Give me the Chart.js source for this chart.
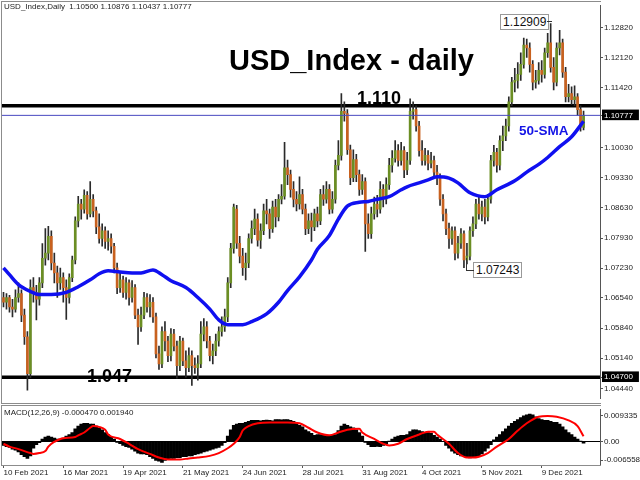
<!DOCTYPE html>
<html>
<head>
<meta charset="utf-8">
<title>USD_Index - daily</title>
<script src="https://cdn.jsdelivr.net/npm/chart.js@4.4.1/dist/chart.umd.min.js"></script>
<style>
  html, body { margin: 0; padding: 0; background: #fff; }
  body { position: relative; width: 640px; height: 480px; overflow: hidden; font-family: "Liberation Sans", Arial, sans-serif; }
  canvas { position: absolute; left: 0; }
  #priceChart { top: 0; }
  #macdChart { top: 404px; }
  .frame { position: absolute; border: 1px solid #8c8c8c; border-right: none; }
  .txt { position: absolute; white-space: nowrap; line-height: 1; }
  .small { font-size: 8px; color: #222; }
  .big { font-weight: bold; color: #000; }
  .callout { position: absolute; background: #fff; border: 1px solid #999; font-size: 12px; line-height: 14px; padding: 0 2px; color: #111; }
  .wire { position: absolute; border-color: #333; border-style: solid; border-width: 0; }
</style>
</head>
<body>
<canvas id="priceChart" width="640" height="404"></canvas>
<canvas id="macdChart" width="640" height="76"></canvas>

<div class="frame" style="left:1px;top:1px;width:599px;height:401px"></div>
<div class="frame" style="left:1px;top:405px;width:599px;height:59px"></div>

<div class="txt small" style="left:4px;top:3px">USD_Index,Daily&nbsp; 1.10500 1.10876 1.10437 1.10777</div>
<div class="txt big" style="left:229px;top:46px;font-size:29px">USD_Index - daily</div>
<div class="txt big" style="left:357px;top:89px;font-size:18px">1.110</div>
<div class="txt big" style="left:87px;top:367px;font-size:18px">1.047</div>
<div class="txt big" style="left:519px;top:124px;font-size:13.5px;color:#1414e6">50-SMA</div>

<div class="callout" style="left:500px;top:14px">1.12909</div>
<div class="wire" style="left:547px;top:21px;width:5px;border-top-width:1px"></div>
<div class="callout" style="left:473px;top:262px">1.07243</div>
<div class="wire" style="left:466px;top:258px;width:7px;height:12px;border-left-width:1px;border-bottom-width:1px"></div>

<div class="txt small" style="left:4px;top:409px">MACD(12,26,9) -0.000470 0.001940</div>

<script>
// x axis: one slot per daily bar
const dateLabels = ['10 Feb 2021', '16 Mar 2021', '19 Apr 2021', '21 May 2021', '24 Jun 2021',
                    '28 Jul 2021', '31 Aug 2021', '4 Oct 2021', '5 Nov 2021', '9 Dec 2021'];
const dateIdx = [0, 20, 40, 60, 80, 100, 120, 140, 160, 180];

// price axis
const priceTicks = [1.12820, 1.12120, 1.11420, 1.10777, 1.10030, 1.09330, 1.08630, 1.07930,
                    1.07230, 1.06540, 1.05840, 1.05140, 1.04700, 1.04440];
const markedPrices = [1.10777, 1.04700];
const levels = [1.110, 1.047];
const lastPrice = 1.10777;

// macd axis
const macdTicks = [0.009335, 0, -0.006558];
const macdTickLabels = ['0.009335', '0.00', '-0.006558'];

// daily candles
const opens = [
  1.0655, 1.0644, 1.0655, 1.0633, 1.0628, 1.0655, 1.0664, 1.0614, 1.0564, 1.0478,
  1.0678, 1.0667, 1.0651, 1.0689, 1.0746, 1.0758, 1.0797, 1.0735, 1.0712, 1.0689,
  1.0701, 1.0678, 1.0655, 1.0701, 1.0742, 1.0833, 1.0872, 1.0860, 1.0892, 1.0849,
  1.0883, 1.0856, 1.0819, 1.0792, 1.0810, 1.0785, 1.0792, 1.0774, 1.0724, 1.0678,
  1.0696, 1.0667, 1.0689, 1.0655, 1.0678, 1.0614, 1.0587, 1.0614, 1.0655, 1.0633,
  1.0644, 1.0610, 1.0524, 1.0501, 1.0576, 1.0554, 1.0520, 1.0570, 1.0542, 1.0497,
  1.0554, 1.0508, 1.0492, 1.0520, 1.0497, 1.0492, 1.0501, 1.0570, 1.0587, 1.0554,
  1.0520, 1.0531, 1.0554, 1.0576, 1.0587, 1.0610, 1.0689, 1.0769, 1.0860, 1.0781,
  1.0751, 1.0724, 1.0735, 1.0792, 1.0815, 1.0837, 1.0788, 1.0810, 1.0856, 1.0849,
  1.0815, 1.0865, 1.0842, 1.0883, 1.0890, 1.0956, 1.0940, 1.0906, 1.0883, 1.0872,
  1.0894, 1.0860, 1.0815, 1.0833, 1.0819, 1.0849, 1.0833, 1.0894, 1.0883, 1.0906,
  1.0860, 1.0883, 1.0962, 1.0985, 1.1087, 1.1082, 1.0998, 1.0933, 1.0975, 1.0940,
  1.0906, 1.0924, 1.0826, 1.0803, 1.0849, 1.0872, 1.0860, 1.0906, 1.0883, 1.0917,
  1.0962, 1.0978, 1.0996, 1.0973, 1.0996, 1.0951, 1.0973, 1.1087, 1.1091, 1.1053,
  1.0996, 1.0973, 1.0985, 1.0967, 1.0973, 1.0946, 1.0933, 1.0883, 1.0849, 1.0815,
  1.0792, 1.0810, 1.0758, 1.0781, 1.0803, 1.0742, 1.0751, 1.0810, 1.0826, 1.0872,
  1.0849, 1.0865, 1.0842, 1.0883, 1.0973, 1.0992, 1.0962, 1.1019, 1.1030, 1.1053,
  1.1109, 1.1155, 1.1159, 1.1173, 1.1196, 1.1241, 1.1234, 1.1196, 1.1155, 1.1159,
  1.1182, 1.1173, 1.1223, 1.1246, 1.1189, 1.1155, 1.1234, 1.1246, 1.1178, 1.1121,
  1.1128, 1.1114, 1.1121, 1.1091, 1.10500
];
const highs = [
  1.0667, 1.0664, 1.0660, 1.0651, 1.0673, 1.0689, 1.0673, 1.0628, 1.0576, 1.0696,
  1.0701, 1.0683, 1.0701, 1.0780, 1.0815, 1.0820, 1.0810, 1.0758, 1.0728, 1.0723,
  1.0712, 1.0696, 1.0710, 1.0751, 1.0842, 1.0890, 1.0883, 1.0905, 1.0901, 1.0924,
  1.0894, 1.0865, 1.0849, 1.0826, 1.0819, 1.0810, 1.0803, 1.0781, 1.0735, 1.0712,
  1.0705, 1.0701, 1.0696, 1.0694, 1.0685, 1.0628, 1.0633, 1.0667, 1.0664, 1.0662,
  1.0655, 1.0619, 1.0542, 1.0587, 1.0599, 1.0565, 1.0583, 1.0581, 1.0554, 1.0565,
  1.0561, 1.0531, 1.0538, 1.0531, 1.0515, 1.0520, 1.0599, 1.0606, 1.0599, 1.0565,
  1.0547, 1.0570, 1.0587, 1.0610, 1.0628, 1.0701, 1.0781, 1.0872, 1.0869, 1.0797,
  1.0769, 1.0758, 1.0803, 1.0833, 1.0860, 1.0849, 1.0826, 1.0872, 1.0883, 1.0860,
  1.0879, 1.0883, 1.0894, 1.0917, 1.1015, 1.0974, 1.0951, 1.0924, 1.0901, 1.0935,
  1.0906, 1.0872, 1.0849, 1.0851, 1.0860, 1.0865, 1.0906, 1.0915, 1.0924, 1.0917,
  1.0901, 1.0974, 1.1019, 1.1128, 1.1109, 1.1091, 1.1009, 1.0998, 1.0987, 1.0951,
  1.0940, 1.0933, 1.0849, 1.0865, 1.0888, 1.0892, 1.0924, 1.0917, 1.0933, 1.0978,
  1.0996, 1.1019, 1.1010, 1.1015, 1.1005, 1.0992, 1.1116, 1.1109, 1.1100, 1.1064,
  1.1019, 1.1001, 1.0996, 1.0992, 1.0983, 1.0962, 1.0942, 1.0894, 1.0860, 1.0828,
  1.0819, 1.0819, 1.0797, 1.0815, 1.0810, 1.0781, 1.0819, 1.0842, 1.0883, 1.0888,
  1.0879, 1.0883, 1.0894, 1.0985, 1.1008, 1.1001, 1.1030, 1.1053, 1.1069, 1.1121,
  1.1166, 1.1187, 1.1200, 1.1223, 1.1257, 1.1255, 1.1246, 1.1205, 1.1182, 1.1200,
  1.1205, 1.1234, 1.1268, 1.12909, 1.1212, 1.1246, 1.1275, 1.1255, 1.1189, 1.1150,
  1.1144, 1.1146, 1.1128, 1.1100, 1.10876
];
const lows = [
  1.0633, 1.0628, 1.0621, 1.0610, 1.0621, 1.0644, 1.0599, 1.0546, 1.0440, 1.0469,
  1.0644, 1.0603, 1.0637, 1.0678, 1.0730, 1.0742, 1.0719, 1.0689, 1.0655, 1.0674,
  1.0644, 1.0604, 1.0642, 1.0692, 1.0733, 1.0819, 1.0837, 1.0851, 1.0837, 1.0842,
  1.0842, 1.0803, 1.0781, 1.0774, 1.0769, 1.0765, 1.0758, 1.0712, 1.0664, 1.0667,
  1.0655, 1.0651, 1.0637, 1.0644, 1.0606, 1.0546, 1.0576, 1.0606, 1.0621, 1.0610,
  1.0597, 1.0515, 1.0488, 1.0492, 1.0531, 1.0506, 1.0508, 1.0531, 1.0468, 1.0485,
  1.0497, 1.0470, 1.0483, 1.0451, 1.0479, 1.0463, 1.0492, 1.0554, 1.0538, 1.0508,
  1.0501, 1.0520, 1.0542, 1.0565, 1.0576, 1.0599, 1.0678, 1.0758, 1.0769, 1.0735,
  1.0706, 1.0696, 1.0724, 1.0781, 1.0801, 1.0774, 1.0769, 1.0801, 1.0826, 1.0792,
  1.0806, 1.0819, 1.0833, 1.0872, 1.0883, 1.0917, 1.0888, 1.0865, 1.0856, 1.0860,
  1.0849, 1.0801, 1.0803, 1.0785, 1.0810, 1.0819, 1.0824, 1.0869, 1.0874, 1.0849,
  1.0851, 1.0874, 1.0951, 1.0974, 1.1064, 1.0987, 1.0917, 1.0924, 1.0924, 1.0892,
  1.0894, 1.0762, 1.0792, 1.0792, 1.0837, 1.0842, 1.0851, 1.0865, 1.0872, 1.0906,
  1.0946, 1.0969, 1.0960, 1.0962, 1.0933, 1.0940, 1.0964, 1.1069, 1.1041, 1.0983,
  1.0962, 1.0962, 1.0951, 1.0956, 1.0933, 1.0917, 1.0869, 1.0833, 1.0801, 1.0769,
  1.0778, 1.0742, 1.0746, 1.0769, 1.07243, 1.0733, 1.0742, 1.0797, 1.0815, 1.0837,
  1.0833, 1.0826, 1.0833, 1.0874, 1.0960, 1.0946, 1.0951, 1.0996, 1.1019, 1.1041,
  1.1100, 1.1132, 1.1141, 1.1159, 1.1187, 1.1212, 1.1178, 1.1137, 1.1141, 1.1150,
  1.1155, 1.1164, 1.1212, 1.1178, 1.1137, 1.1146, 1.1218, 1.1166, 1.1109, 1.1109,
  1.1103, 1.1100, 1.1078, 1.1041, 1.10437
];
const closes = [
  1.0644, 1.0655, 1.0633, 1.0628, 1.0655, 1.0664, 1.0614, 1.0564, 1.0478, 1.0678,
  1.0667, 1.0651, 1.0689, 1.0746, 1.0758, 1.0797, 1.0735, 1.0712, 1.0689, 1.0701,
  1.0678, 1.0655, 1.0701, 1.0742, 1.0833, 1.0872, 1.0860, 1.0892, 1.0849, 1.0883,
  1.0856, 1.0819, 1.0792, 1.0810, 1.0785, 1.0792, 1.0774, 1.0724, 1.0678, 1.0696,
  1.0667, 1.0689, 1.0655, 1.0678, 1.0614, 1.0587, 1.0614, 1.0655, 1.0633, 1.0644,
  1.0610, 1.0524, 1.0501, 1.0576, 1.0554, 1.0520, 1.0570, 1.0542, 1.0497, 1.0554,
  1.0508, 1.0492, 1.0520, 1.0497, 1.0492, 1.0501, 1.0570, 1.0587, 1.0554, 1.0520,
  1.0531, 1.0554, 1.0576, 1.0587, 1.0610, 1.0689, 1.0769, 1.0865, 1.0781, 1.0751,
  1.0724, 1.0735, 1.0792, 1.0815, 1.0837, 1.0788, 1.0810, 1.0856, 1.0849, 1.0815,
  1.0865, 1.0842, 1.0883, 1.0890, 1.0956, 1.0940, 1.0906, 1.0883, 1.0872, 1.0894,
  1.0860, 1.0815, 1.0833, 1.0819, 1.0849, 1.0833, 1.0894, 1.0883, 1.0906, 1.0860,
  1.0883, 1.0962, 1.0985, 1.1087, 1.1082, 1.0998, 1.0933, 1.0975, 1.0940, 1.0906,
  1.0924, 1.0826, 1.0803, 1.0849, 1.0872, 1.0860, 1.0906, 1.0883, 1.0917, 1.0962,
  1.0978, 1.0996, 1.0973, 1.0996, 1.0951, 1.0973, 1.1087, 1.1091, 1.1053, 1.0996,
  1.0973, 1.0985, 1.0967, 1.0973, 1.0946, 1.0933, 1.0883, 1.0849, 1.0815, 1.0792,
  1.0810, 1.0758, 1.0781, 1.0803, 1.0742, 1.0751, 1.0810, 1.0826, 1.0872, 1.0849,
  1.0865, 1.0842, 1.0883, 1.0973, 1.0992, 1.0962, 1.1019, 1.1030, 1.1053, 1.1109,
  1.1155, 1.1159, 1.1173, 1.1196, 1.1241, 1.1234, 1.1196, 1.1155, 1.1159, 1.1182,
  1.1173, 1.1223, 1.1246, 1.1189, 1.1155, 1.1234, 1.1246, 1.1178, 1.1121, 1.1128,
  1.1114, 1.1121, 1.1091, 1.1050, 1.10777
];

// 50-SMA: [bar index, value]
const sma50 = [
  [0, 1.0724], [2, 1.0708], [5, 1.0685], [9, 1.0669], [12, 1.0662], [16, 1.0662],
  [21, 1.0667], [25, 1.0680], [29, 1.0696], [32, 1.0710], [35, 1.0717], [39, 1.0714],
  [43, 1.0712], [46, 1.0712], [50, 1.0719], [53, 1.0708], [56, 1.0694], [61, 1.0678],
  [65, 1.0655], [69, 1.0628], [72, 1.0603], [75, 1.0592], [80, 1.0592], [83, 1.0599],
  [88, 1.0617], [92, 1.0644], [95, 1.0671], [99, 1.0703], [103, 1.0742], [105, 1.0767],
  [109, 1.0799], [112, 1.0837], [115, 1.0867], [119, 1.0876], [122, 1.0878], [125, 1.0883],
  [129, 1.0889], [133, 1.0905], [135, 1.0912], [139, 1.0921], [142, 1.0928], [145, 1.0935],
  [149, 1.0932], [152, 1.0921], [156, 1.0898], [161, 1.0889], [165, 1.0905], [171, 1.0926],
  [175, 1.0946], [179, 1.0964], [182, 1.0980], [186, 1.1005], [190, 1.1028], [194, 1.1064]
];

// MACD main (histogram), one per bar
const macdMain = [
  -0.0013, -0.0017, -0.0020, -0.0026, -0.0030, -0.0036, -0.0046, -0.0053, -0.0059, -0.0050,
  -0.0023, -0.0010, -0.0003, 0.0010, 0.0017, 0.0020, 0.0017, 0.0013, 0.0010, 0.0010,
  0.0013, 0.0020, 0.0026, 0.0033, 0.0046, 0.0056, 0.0063, 0.0066, 0.0066, 0.0063,
  0.0063, 0.0056, 0.0050, 0.0043, 0.0033, 0.0026, 0.0017, 0.0010, -0.0001, -0.0007,
  -0.0013, -0.0017, -0.0020, -0.0026, -0.0033, -0.0040, -0.0043, -0.0043, -0.0046, -0.0053,
  -0.0059, -0.0066, -0.0069, -0.0073, -0.0066, -0.0063, -0.0059, -0.0059, -0.0056, -0.0056,
  -0.0053, -0.0053, -0.0050, -0.0050, -0.0046, -0.0043, -0.0040, -0.0036, -0.0033, -0.0030,
  -0.0026, -0.0023, -0.0020, -0.0013, -0.0003, 0.0020, 0.0043, 0.0059, 0.0063, 0.0066,
  0.0066, 0.0069, 0.0073, 0.0076, 0.0076, 0.0076, 0.0075, 0.0076, 0.0077, 0.0076,
  0.0075, 0.0079, 0.0079, 0.0078, 0.0079, 0.0079, 0.0076, 0.0073, 0.0066, 0.0059,
  0.0053, 0.0043, 0.0036, 0.0030, 0.0023, 0.0026, 0.0026, 0.0023, 0.0023, 0.0023,
  0.0023, 0.0026, 0.0040, 0.0056, 0.0063, 0.0059, 0.0053, 0.0050, 0.0043, 0.0033,
  0.0020, -0.0001, -0.0010, -0.0017, -0.0017, -0.0016, -0.0017, -0.0013, -0.0007, 0.0003,
  0.0010, 0.0017, 0.0020, 0.0023, 0.0023, 0.0026, 0.0036, 0.0043, 0.0043, 0.0040,
  0.0036, 0.0033, 0.0033, 0.0030, 0.0023, 0.0017, 0.0010, 0.0001, -0.0013, -0.0023,
  -0.0033, -0.0040, -0.0046, -0.0050, -0.0053, -0.0056, -0.0057, -0.0056, -0.0053, -0.0050,
  -0.0043, -0.0033, -0.0023, -0.0010, 0.0007, 0.0017, 0.0026, 0.0036, 0.0046, 0.0056,
  0.0066, 0.0073, 0.0079, 0.0086, 0.0092, 0.0096, 0.0099, 0.0096, 0.0089, 0.0083,
  0.0079, 0.0076, 0.0076, 0.0073, 0.0069, 0.0069, 0.0063, 0.0053, 0.0043, 0.0033,
  0.0026, 0.0017, 0.0010, 0.0003, -0.00047
];

// MACD signal line: [bar index, value]
const macdSignal = [
  [0, -0.0007], [2, -0.0017], [5, -0.0026], [9, -0.0040], [10, -0.0043], [12, -0.0040],
  [14, -0.0033], [15, -0.0017], [17, 0.0000], [19, 0.0010], [20, 0.0013], [24, 0.0017],
  [25, 0.0023], [27, 0.0033], [29, 0.0050], [30, 0.0056], [32, 0.0053], [34, 0.0043],
  [35, 0.0026], [39, 0.0010], [42, -0.0007], [45, -0.0026], [49, -0.0043], [52, -0.0056],
  [55, -0.0063], [59, -0.0063], [62, -0.0059], [65, -0.0056], [69, -0.0050], [72, -0.0040],
  [75, -0.0023], [77, -0.0007], [79, 0.0017], [80, 0.0040], [82, 0.0056], [85, 0.0066],
  [89, 0.0069], [92, 0.0069], [95, 0.0069], [99, 0.0066], [102, 0.0050], [105, 0.0033],
  [109, 0.0023], [112, 0.0033], [115, 0.0043], [119, 0.0046], [120, 0.0033], [124, 0.0010],
  [127, -0.0007], [129, -0.0013], [132, -0.0007], [135, 0.0010], [139, 0.0026], [142, 0.0036],
  [144, 0.0036], [145, 0.0026], [149, -0.0007], [152, -0.0040], [155, -0.0056], [157, -0.0056],
  [159, -0.0053], [162, -0.0040], [165, -0.0017], [169, 0.0010], [172, 0.0040], [175, 0.0066],
  [179, 0.0089], [182, 0.0092], [185, 0.0089], [189, 0.0076], [192, 0.0056], [194, 0.00194]
];

const xMin = -0.5, xMax = 199.5;
const upColor = '#6b8e23';
const downColor = '#c8611f';

const bodyData = opens.map((o, i) => ({ x: i, y: [o, closes[i]] }));
const wickData = lows.map((l, i) => ({ x: i, y: [l, highs[i]] }));
const bodyColors = opens.map((o, i) => closes[i] >= o ? upColor : downColor);

const flatLine = v => [{ x: xMin, y: v }, { x: xMax, y: v }];

// Price panel
new Chart(document.getElementById('priceChart'), {
  type: 'bar',
  data: {
    datasets: [
      { type: 'line', data: sma50.map(p => ({ x: p[0], y: p[1] })), borderColor: '#1010f0', borderWidth: 3.5,
        pointRadius: 0, cubicInterpolationMode: 'monotone', order: 0 },
      { type: 'line', data: flatLine(lastPrice), borderColor: '#4848c0', borderWidth: 1, pointRadius: 0, order: 1 },
      { data: bodyData, backgroundColor: bodyColors, barThickness: 2, grouped: false, order: 2 },
      { data: wickData, backgroundColor: '#2a2a2a', barThickness: 1, grouped: false, order: 3 },
      { type: 'line', data: flatLine(levels[0]), borderColor: '#000', borderWidth: 3.5, pointRadius: 0, order: 4 },
      { type: 'line', data: flatLine(levels[1]), borderColor: '#000', borderWidth: 3.5, pointRadius: 0, order: 4 }
    ]
  },
  options: {
    responsive: false,
    animation: false,
    layout: { padding: { left: 2, top: 2, bottom: 1, right: 0 } },
    plugins: { legend: { display: false }, tooltip: { enabled: false } },
    scales: {
      x: { type: 'linear', min: xMin, max: xMax, offset: false, grid: { offset: false }, display: false },
      y: {
        position: 'right',
        min: 1.04213,
        max: 1.1332,
        afterBuildTicks: s => { s.ticks = priceTicks.map(v => ({ value: v })); },
        afterFit: s => { s.width = 40; },
        grid: { drawOnChartArea: false, tickLength: 3, color: '#555' },
        border: { color: '#555' },
        ticks: {
          autoSkip: false,
          padding: 1,
          font: { family: 'Liberation Sans', size: 8 },
          callback: v => v.toFixed(5),
          color: ctx => markedPrices.includes(ctx.tick.value) ? '#fff' : '#222',
          showLabelBackdrop: ctx => markedPrices.includes(ctx.tick.value),
          backdropColor: '#000',
          backdropPadding: { left: 2, right: 6, top: 1, bottom: 0 }
        }
      }
    }
  }
});

// MACD panel
new Chart(document.getElementById('macdChart'), {
  type: 'bar',
  data: {
    datasets: [
      { type: 'line', data: macdSignal.map(p => ({ x: p[0], y: p[1] })), borderColor: '#ff0000', borderWidth: 2,
        pointRadius: 0, cubicInterpolationMode: 'monotone', order: 0 },
      { data: macdMain.map((v, i) => ({ x: i, y: v })), backgroundColor: '#000',
        barPercentage: 1, categoryPercentage: 1, order: 1 }
    ]
  },
  options: {
    responsive: false,
    animation: false,
    layout: { padding: { left: 2, top: 1.5, bottom: 0, right: 0 } },
    plugins: { legend: { display: false }, tooltip: { enabled: false } },
    scales: {
      x: {
        type: 'linear',
        min: xMin,
        max: xMax,
        offset: false,
        afterBuildTicks: s => { s.ticks = dateIdx.map(v => ({ value: v })); },
        afterFit: s => { s.height = 15; },
        grid: { offset: false, drawOnChartArea: false, tickLength: 3, color: '#555' },
        border: { color: '#555' },
        ticks: {
          autoSkip: false,
          maxRotation: 0,
          align: 'start',
          padding: 0,
          color: '#222',
          font: { family: 'Liberation Sans', size: 8 },
          callback: v => dateLabels[dateIdx.indexOf(v)]
        }
      },
      y: {
        position: 'right',
        min: -0.00825,
        max: 0.01138,
        afterBuildTicks: s => { s.ticks = macdTicks.map(v => ({ value: v })); },
        afterFit: s => { s.width = 40; },
        grid: { color: ctx => ctx.tick && ctx.tick.value === 0 ? '#000' : 'rgba(0,0,0,0)', tickColor: '#555', tickLength: 3 },
        border: { color: '#555' },
        ticks: {
          autoSkip: false,
          padding: 1,
          color: '#222',
          font: { family: 'Liberation Sans', size: 8 },
          callback: (v, i) => macdTickLabels[i]
        }
      }
    }
  }
});
</script>
</body>
</html>
